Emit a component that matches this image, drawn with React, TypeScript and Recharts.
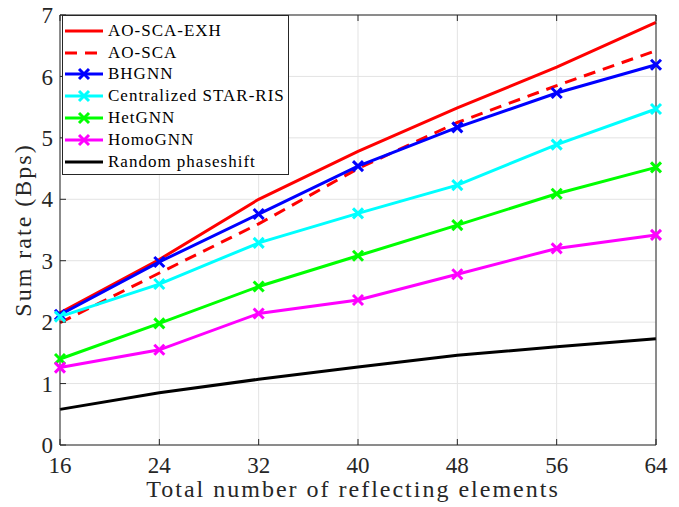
import React from 'react';
import { LineChart, Line, XAxis, YAxis, CartesianGrid, Legend } from 'recharts';

const elements = [16, 24, 32, 40, 48, 56, 64];
const aoScaExh = [2.15, 3.02, 4.0, 4.78, 5.49, 6.15, 6.88];
const aoSca = [1.99, 2.8, 3.6, 4.5, 5.25, 5.85, 6.42];
const bhgnn = [2.12, 2.98, 3.76, 4.54, 5.17, 5.73, 6.19];
const centralized = [2.09, 2.62, 3.29, 3.77, 4.23, 4.89, 5.47];
const hetgnn = [1.4, 1.98, 2.58, 3.08, 3.58, 4.09, 4.52];
const homognn = [1.26, 1.55, 2.14, 2.36, 2.78, 3.2, 3.42];
const randomPhase = [0.58, 0.85, 1.07, 1.27, 1.46, 1.6, 1.73];

const xTicks = [16, 24, 32, 40, 48, 56, 64];
const yTicks = [0, 1, 2, 3, 4, 5, 6, 7];

const data = elements.map((n, i) => ({
  n,
  exh: aoScaExh[i],
  sca: aoSca[i],
  bh: bhgnn[i],
  cen: centralized[i],
  het: hetgnn[i],
  homo: homognn[i],
  rnd: randomPhase[i],
}));

type S = { key: string; name: string; color: string; dashed?: boolean; marker?: boolean };
const series: S[] = [
  { key: 'exh', name: 'AO-SCA-EXH', color: '#ff0000' },
  { key: 'sca', name: 'AO-SCA', color: '#ff0000', dashed: true },
  { key: 'bh', name: 'BHGNN', color: '#0000ff', marker: true },
  { key: 'cen', name: 'Centralized STAR-RIS', color: '#00ffff', marker: true },
  { key: 'het', name: 'HetGNN', color: '#00ff00', marker: true },
  { key: 'homo', name: 'HomoGNN', color: '#ff00ff', marker: true },
  { key: 'rnd', name: 'Random phaseshift', color: '#000000' },
];

const FONT = "'Liberation Serif', 'Times New Roman', serif";
const AX = '#262626';

const makeX = (color: string) => (props: any) => {
  const { cx, cy } = props;
  if (cx == null || cy == null) return <g />;
  const r = 5;
  return (
    <g>
      <line x1={cx - r} y1={cy - r} x2={cx + r} y2={cy + r} stroke={color} strokeWidth={3} />
      <line x1={cx - r} y1={cy + r} x2={cx + r} y2={cy - r} stroke={color} strokeWidth={3} />
    </g>
  );
};

const Empty = () => <g />;

const LegendBox = () => (
  <div
    style={{
      border: `1px solid ${AX}`,
      background: '#fff',
      width: 227,
      height: 160,
      boxSizing: 'border-box',
      paddingTop: 4,
      fontFamily: FONT,
      fontSize: 17,
      letterSpacing: 1,
      color: '#000',
    }}
  >
    {series.map((s) => (
      <div key={s.key} style={{ height: 21.8, display: 'flex', alignItems: 'center', whiteSpace: 'nowrap' }}>
        <svg width={40} height={20} style={{ marginLeft: 2, flex: 'none' }}>
          <line
            x1={0}
            x2={38}
            y1={10}
            y2={10}
            stroke={s.color}
            strokeWidth={3}
            strokeDasharray={s.dashed ? '12 8' : undefined}
          />
          {s.marker && (
            <g>
              <line x1={14} y1={5} x2={24} y2={15} stroke={s.color} strokeWidth={3} />
              <line x1={14} y1={15} x2={24} y2={5} stroke={s.color} strokeWidth={3} />
            </g>
          )}
        </svg>
        <span style={{ marginLeft: 3 }}>{s.name}</span>
      </div>
    ))}
  </div>
);

export default function App() {
  return (
    <div style={{ position: 'absolute', left: 0, top: 0, width: 679, height: 507, background: '#fff' }}>
      <LineChart width={679} height={507} data={data} margin={{ top: 0, right: 0, bottom: 0, left: 0 }}>
        <CartesianGrid stroke="#e3e3e3" strokeWidth={1} />
        <XAxis
          dataKey="n"
          type="number"
          domain={[16, 64]}
          ticks={xTicks}
          height={62}
          tickSize={-6}
          tickMargin={18}
          axisLine={{ stroke: AX }}
          tickLine={{ stroke: AX }}
          tick={{ fontFamily: FONT, fontSize: 23, fill: AX }}
          label={{
            content: (p: any) => {
              const vb = p.viewBox;
              return (
                <text
                  x={vb.x + vb.width / 2 - 5}
                  y={vb.y + 52}
                  textAnchor="middle"
                  fontFamily={FONT}
                  fontSize={24}
                  letterSpacing={2}
                  fill={AX}
                >
                  Total number of reflecting elements
                </text>
              );
            },
          }}
        />
        <XAxis
          xAxisId="top"
          orientation="top"
          dataKey="n"
          type="number"
          domain={[16, 64]}
          ticks={xTicks}
          height={15}
          tickSize={-6}
          axisLine={{ stroke: AX }}
          tickLine={{ stroke: AX }}
          tick={Empty}
        />
        <YAxis
          type="number"
          domain={[0, 7]}
          ticks={yTicks}
          width={60}
          tickSize={-6}
          tickMargin={13}
          axisLine={{ stroke: AX }}
          tickLine={{ stroke: AX }}
          tick={{ fontFamily: FONT, fontSize: 23, fill: AX }}
          label={{
            content: (p: any) => {
              const vb = p.viewBox;
              const cx = vb.x + 23;
              const cy = vb.y + vb.height / 2;
              return (
                <text
                  x={cx}
                  y={cy}
                  transform={`rotate(-90 ${cx} ${cy})`}
                  textAnchor="middle"
                  dominantBaseline="central"
                  fontFamily={FONT}
                  fontSize={24}
                  letterSpacing={2}
                  fill={AX}
                >
                  Sum rate (Bps)
                </text>
              );
            },
          }}
        />
        <YAxis
          yAxisId="right"
          orientation="right"
          type="number"
          domain={[0, 7]}
          ticks={yTicks}
          width={23}
          tickSize={-6}
          axisLine={{ stroke: AX }}
          tickLine={{ stroke: AX }}
          tick={Empty}
        />
        <Legend
          layout="vertical"
          align="center"
          verticalAlign="middle"
          wrapperStyle={{ left: 62, top: 15, width: 'auto' }}
          content={() => <LegendBox />}
        />
        {series.map((s) => (
          <Line
            key={s.key}
            dataKey={s.key}
            name={s.name}
            type="linear"
            stroke={s.color}
            strokeWidth={3}
            strokeDasharray={s.dashed ? '12 8' : undefined}
            dot={s.marker ? makeX(s.color) : false}
            activeDot={false}
            isAnimationActive={false}
          />
        ))}
      </LineChart>
    </div>
  );
}
